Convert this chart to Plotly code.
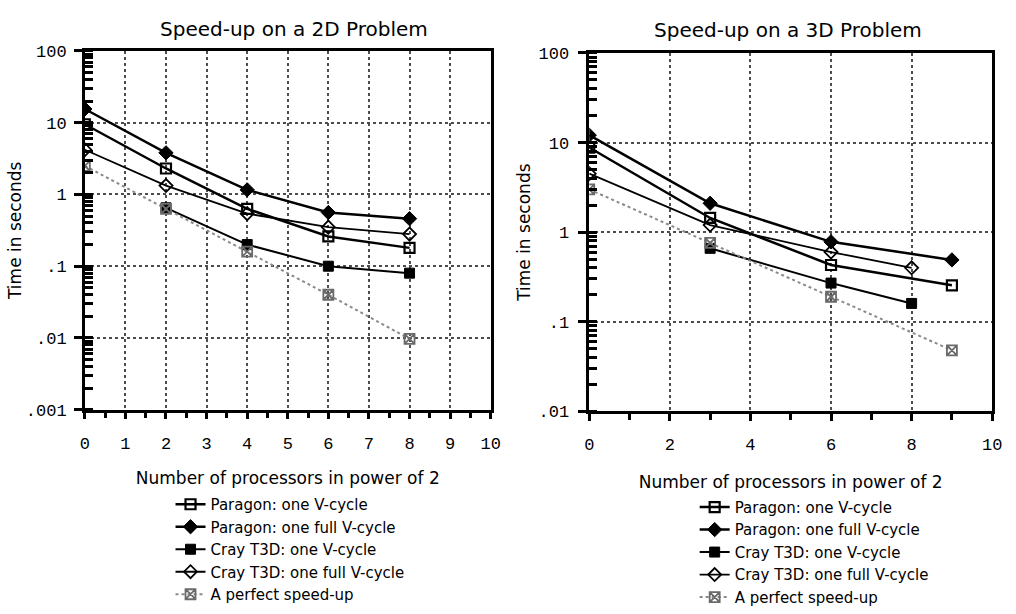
import plotly.graph_objects as go

SERIES_NAMES = [
    "Paragon: one V-cycle",
    "Paragon: one full V-cycle",
    "Cray T3D: one V-cycle",
    "Cray T3D: one full V-cycle",
    "A perfect speed-up",
]

# ---- Speed-up on a 2D Problem ----
x2d_paragon_v = [0, 2, 4, 6, 8]
y2d_paragon_v = [9.5, 2.3, 0.63, 0.26, 0.18]
x2d_paragon_full = [0, 2, 4, 6, 8]
y2d_paragon_full = [15.5, 3.8, 1.16, 0.56, 0.46]
x2d_cray_v = [2, 4, 6, 8]
y2d_cray_v = [0.65, 0.2, 0.1, 0.08]
x2d_cray_full = [0, 2, 4, 6, 8]
y2d_cray_full = [4.2, 1.33, 0.54, 0.35, 0.28]
x2d_perfect = [0, 2, 4, 6, 8]
y2d_perfect = [2.5, 0.63, 0.16, 0.04, 0.0097]

# ---- Speed-up on a 3D Problem ----
x3d_paragon_v = [0, 3, 6, 9]
y3d_paragon_v = [8.8, 1.44, 0.43, 0.255]
x3d_paragon_full = [0, 3, 6, 9]
y3d_paragon_full = [12.1, 2.1, 0.78, 0.49]
x3d_cray_v = [3, 6, 8]
y3d_cray_v = [0.66, 0.27, 0.16]
x3d_cray_full = [0, 3, 6, 8]
y3d_cray_full = [4.5, 1.2, 0.6, 0.40]
x3d_perfect = [0, 3, 6, 9]
y3d_perfect = [3.0, 0.76, 0.19, 0.048]

Y_TICKS = [0.001, 0.01, 0.1, 1, 10, 100]
Y_TICKTEXT = [".001", ".01", ".1", "1", "10", "100"]

TITLE_2D = "Speed-up on a 2D Problem"
TITLE_3D = "Speed-up on a 3D Problem"
X_TITLE = "Number of processors in power of 2"
Y_TITLE = "Time in seconds"

W, H = 1016, 614

STYLES = [
    dict(line=dict(color="black", width=2.5),
         marker=dict(symbol="square-open", size=10, color="black", line=dict(width=2.2, color="black"))),
    dict(line=dict(color="black", width=2.5),
         marker=dict(symbol="diamond", size=11, color="black", line=dict(width=1, color="black"))),
    dict(line=dict(color="black", width=2),
         marker=dict(symbol="square", size=10, color="black", line=dict(width=1, color="black"))),
    dict(line=dict(color="black", width=1.8),
         marker=dict(symbol="diamond-open", size=10, color="black", line=dict(width=1.8, color="black"))),
    dict(line=dict(color="#8a8a8a", width=2, dash="dot"),
         marker=dict(symbol="square-x-open", size=10, color="#6a6a6a", line=dict(width=1.8, color="#6a6a6a"))),
]

data2d = [
    (x2d_paragon_v, y2d_paragon_v),
    (x2d_paragon_full, y2d_paragon_full),
    (x2d_cray_v, y2d_cray_v),
    (x2d_cray_full, y2d_cray_full),
    (x2d_perfect, y2d_perfect),
]
data3d = [
    (x3d_paragon_v, y3d_paragon_v),
    (x3d_paragon_full, y3d_paragon_full),
    (x3d_cray_v, y3d_cray_v),
    (x3d_cray_full, y3d_cray_full),
    (x3d_perfect, y3d_perfect),
]

fig = go.Figure()
for i, (xs, ys) in enumerate(data2d):
    fig.add_trace(go.Scatter(x=xs, y=ys, mode="lines+markers", name=SERIES_NAMES[i],
                             xaxis="x", yaxis="y", legend="legend", **STYLES[i]))
for i, (xs, ys) in enumerate(data3d):
    fig.add_trace(go.Scatter(x=xs, y=ys, mode="lines+markers", name=SERIES_NAMES[i],
                             xaxis="x2", yaxis="y2", legend="legend2", **STYLES[i]))


def px_x(p):
    return p / W


def px_y(p):
    return 1 - p / H


tick_font = dict(family="Liberation Mono", size=17, color="black")
title_font = dict(family="DejaVu Sans", size=17, color="black")
label_alias = {str(v): t for v, t in zip(Y_TICKS, Y_TICKTEXT)}

grid = dict(showgrid=True, gridcolor="#4d4d4d", gridwidth=1.8, griddash="dot")
line = dict(showline=True, linecolor="black", linewidth=2.5, mirror=True, zeroline=False)
y_common = dict(type="log", tickmode="linear", tick0=0, dtick=1, labelalias=label_alias,
                ticks="outside", ticklen=8, tickwidth=2.5, tickcolor="black",
                tickfont=tick_font,
                minor=dict(dtick="D1", ticks="inside", ticklen=8, tickwidth=3,
                           tickcolor="black", showgrid=False))

fig.update_layout(
    width=W, height=H,
    margin=dict(l=0, r=0, t=0, b=0),
    paper_bgcolor="white", plot_bgcolor="white",
    font=dict(family="DejaVu Sans", color="black"),
    xaxis=dict(domain=[px_x(81), px_x(493)], anchor="y", range=[0, 10],
               tickmode="linear", tick0=0, dtick=1,
               ticks="outside", ticklen=7, tickwidth=2.5, tickcolor="black",
               ticklabelstandoff=9, tickfont=tick_font,
               minor=dict(tickmode="linear", tick0=0.5, dtick=1, ticks="outside", ticklen=6,
                          tickwidth=3, tickcolor="black", showgrid=False),
               title=dict(text=X_TITLE, font=title_font, standoff=20),
               **grid, **line),
    yaxis=dict(domain=[px_y(426), px_y(45.5)], anchor="x", range=[-3, 2],
               ticklabelstandoff=4,
               title=dict(text=Y_TITLE, font=title_font, standoff=0),
               **y_common, **grid, **line),
    xaxis2=dict(domain=[px_x(593), px_x(1002)], anchor="y2", range=[0, 10],
                tickmode="linear", tick0=0, dtick=2,
                ticks="outside", ticklen=7, tickwidth=2.5, tickcolor="black",
                ticklabelstandoff=9, tickfont=tick_font,
                minor=dict(tickmode="linear", tick0=1, dtick=2, ticks="outside", ticklen=6,
                           tickwidth=3, tickcolor="black", showgrid=False),
                title=dict(text=X_TITLE, font=title_font, standoff=22),
                **grid, **line),
    yaxis2=dict(domain=[px_y(427.7), px_y(47.7)], anchor="x2", range=[-2, 2],
                ticklabelstandoff=6,
                title=dict(text=Y_TITLE, font=title_font, standoff=4),
                **y_common, **grid, **line),
    legend=dict(x=px_x(168), y=px_y(509), xanchor="left", yanchor="top",
                font=dict(family="DejaVu Sans", size=15, color="black"),
                bgcolor="rgba(0,0,0,0)", borderwidth=0, itemwidth=30,
                tracegroupgap=0),
    legend2=dict(x=px_x(700), y=px_y(512), xanchor="left", yanchor="top",
                 font=dict(family="DejaVu Sans", size=15, color="black"),
                 bgcolor="rgba(0,0,0,0)", borderwidth=0, itemwidth=30,
                 tracegroupgap=0),
    showlegend=True,
    annotations=[
        dict(text=TITLE_2D, x=px_x(293), y=px_y(22), xref="paper", yref="paper",
             xanchor="center", yanchor="middle", showarrow=False,
             font=dict(family="DejaVu Sans", size=20, color="black")),
        dict(text=TITLE_3D, x=px_x(795), y=px_y(23), xref="paper", yref="paper",
             xanchor="center", yanchor="middle", showarrow=False,
             font=dict(family="DejaVu Sans", size=20, color="black")),
    ],
)

fig.write_html("out.html", config={"displayModeBar": False},
               post_script="document.body.style.margin='0px';")
